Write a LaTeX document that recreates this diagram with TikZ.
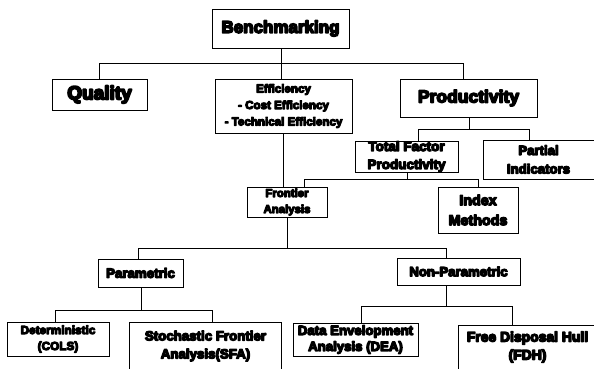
\documentclass[tikz,border=0pt]{standalone}
\usepackage{fontspec}
\newfontfamily\hv{Liberation Sans Bold}
\newcommand{\hvy}[1]{\special{pdf:literal direct 2 Tr #1 w 0 0 0 RG 1 j}}
\tikzset{
  box/.style={draw=black, line width=0.9pt, fill=white, inner sep=0pt, align=center},
  conn/.style={draw=black, line width=0.9pt},
}
\newcommand{\fs}[3]{\fontsize{#1}{#2}\selectfont\hvy{#3}}
\begin{document}
\begin{tikzpicture}[x=1pt,y=-1pt]
\useasboundingbox (0,0) rectangle (594,369);
\clip (0,0) rectangle (594,369);
\fill[white] (0,0) rectangle (594,369);

\node[box, minimum width=137pt, minimum height=39pt, font=\hv\fs{17}{20}{1.6}] (bench) at (280.5,28.5) {Benchmarking};
\node[box, minimum width=95pt, minimum height=31pt, font=\hv\fs{19}{22}{1.8}] (quality) at (99.5,94.5) {Quality};
\node[box, minimum width=137pt, minimum height=54pt, font=\hv\fs{11.6}{16.5}{1.1}] (eff) at (283.5,106) {Efficiency\\- Cost Efficiency\\- Technical Efficiency};
\node[box, minimum width=137pt, minimum height=38pt, font=\hv\fs{17.5}{20}{1.6}] (prod) at (468.5,98) {Productivity};
\node[box, minimum width=103pt, minimum height=31pt, font=\hv\fs{13.5}{18}{1.3}] (tfp) at (406.5,156.5) {Total Factor\\Productivity};
\node[box, minimum width=111pt, minimum height=39pt, font=\hv\fs{13.2}{18.5}{1.3}] (partial) at (538.5,159.5) {Partial\\Indicators};
\node[box, minimum width=80pt, minimum height=30pt, font=\hv\fs{11.4}{16}{1.1}] (frontier) at (287,202) {Frontier\\Analysis};
\node[box, minimum width=80pt, minimum height=46pt, font=\hv\fs{14.3}{20}{1.4}] (index) at (478,210) {Index\\Methods};
\node[box, minimum width=85pt, minimum height=28pt, font=\hv\fs{13.3}{16}{1.3}] (param) at (140.5,273) {Parametric};
\node[box, minimum width=123pt, minimum height=27pt, font=\hv\fs{13.2}{16}{1.3}] (nonparam) at (458.5,271.5) {Non-Parametric};
\node[box, minimum width=102pt, minimum height=34pt, font=\hv\fs{11.8}{16}{1.1}] (determ) at (58,339) {Deterministic\\(COLS)};
\node[box, minimum width=152pt, minimum height=58pt] (sfa) at (205,351) {};
\node[font=\hv\fs{13.3}{18}{1.3}, align=center, inner sep=0pt] (sfat) at (205.5,346) {Stochastic Frontier\\Analysis(SFA)};
\node[box, minimum width=125pt, minimum height=33pt, font=\hv\fs{13.2}{16}{1.3}] (dea) at (355.5,339.5) {Data Envelopment\\Analysis (DEA)};
\node[box, minimum width=139pt, minimum height=55pt] (fdh) at (527.5,352.5) {};
\node[font=\hv\fs{13.9}{18}{1.4}, align=center, inner sep=0pt] (fdht) at (527.5,347) {Free Disposal Hull\\(FDH)};

% Benchmarking children
\coordinate (b1) at (99,63);
\coordinate (b2) at (463,63);
\draw[conn] (quality.north -| b1) -- (b1) -- (b2) -- (prod.north -| b2);
\draw[conn] (bench.south -| 281,0) -- (eff.north -| 281,0);

% Efficiency to Frontier
\draw[conn] (eff.south -| 283,0) -- (frontier.north -| 283,0);

% Productivity children
\coordinate (p0) at (469,129);
\coordinate (p1) at (418,129);
\coordinate (p2) at (529,129);
\draw[conn] (prod.south -| p0) -- (p0);
\draw[conn] (tfp.north -| p1) -- (p1) -- (p2) -- (partial.north -| p2);

% TFP children
\coordinate (t0) at (407,179);
\coordinate (t1) at (304,179);
\coordinate (t2) at (478,179);
\draw[conn] (tfp.south -| t0) -- (t0);
\draw[conn] (frontier.north -| t1) -- (t1) -- (t2) -- (index.north -| t2);

% Frontier children
\coordinate (f0) at (287,248);
\coordinate (f1) at (138,248);
\coordinate (f2) at (446,248);
\draw[conn] (frontier.south -| f0) -- (f0);
\draw[conn] (param.north -| f1) -- (f1) -- (f2) -- (nonparam.north -| f2);

% Parametric children
\coordinate (q0) at (141,310);
\coordinate (q1) at (55,310);
\coordinate (q2) at (212,310);
\draw[conn] (param.south -| q0) -- (q0);
\draw[conn] (determ.north -| q1) -- (q1) -- (q2) -- (sfa.north -| q2);

% Non-parametric children
\coordinate (n0) at (446,306);
\coordinate (n1) at (361,306);
\coordinate (n2) at (512,306);
\draw[conn] (nonparam.south -| n0) -- (n0);
\draw[conn] (dea.north -| n1) -- (n1) -- (n2) -- (fdh.north -| n2);
\end{tikzpicture}
\end{document}
